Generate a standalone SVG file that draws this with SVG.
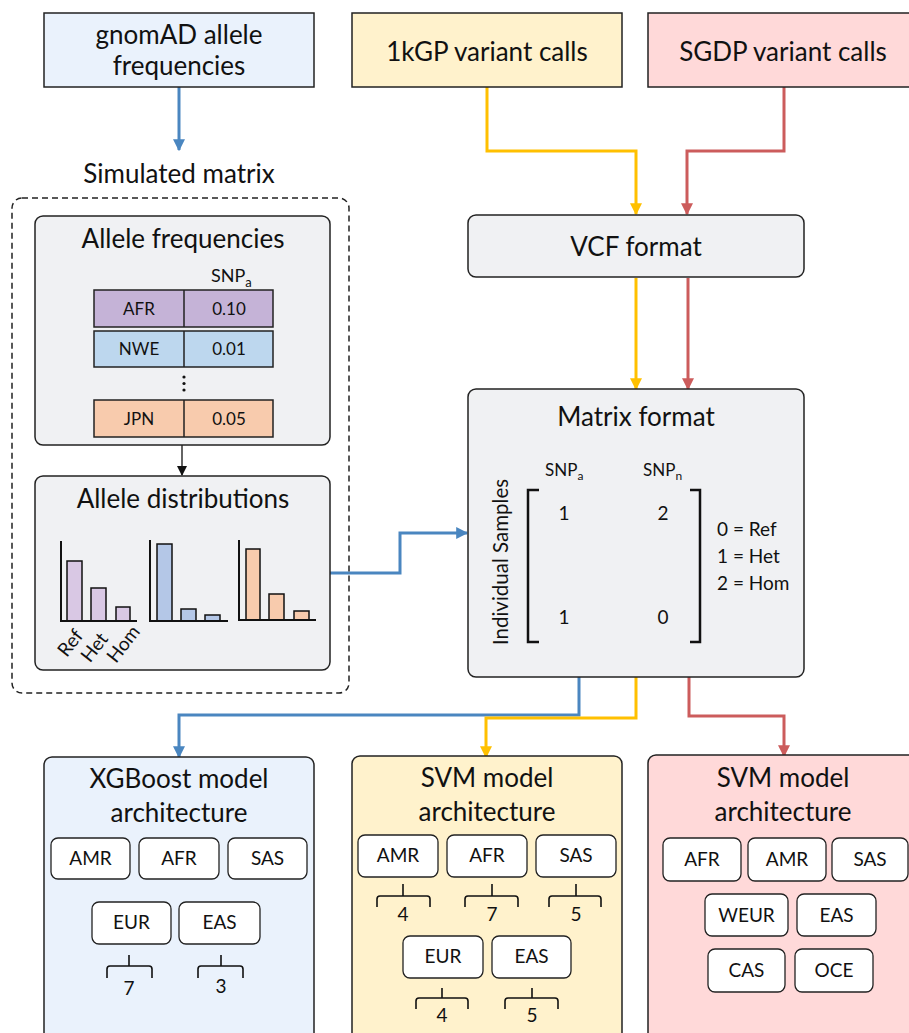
<svg xmlns="http://www.w3.org/2000/svg" width="909" height="1033" viewBox="0 0 909 1033">
<style>
text{font-family:Lato,"Open Sans","Noto Sans",sans-serif;fill:#111}
.t{font-size:26px;text-anchor:middle}
.m{font-size:19px;text-anchor:middle}
.s{font-size:17px;text-anchor:middle}
.box{stroke:#222;stroke-width:1.5}
.sub{fill:#fff;stroke:#222;stroke-width:1.3}
.br{fill:none;stroke:#111;stroke-width:1.6}
.ax{fill:none;stroke:#111;stroke-width:2}
.bar{stroke:#111;stroke-width:1.5}
.cb{fill:none;stroke:#4A86C0;stroke-width:3}
.cy{fill:none;stroke:#FFC000;stroke-width:3}
.cr{fill:none;stroke:#CC5C5C;stroke-width:3}
.ck{fill:none;stroke:#111;stroke-width:1.3}
</style>
<defs>
<marker id="ab" viewBox="0 0 10 10" refX="9" refY="5" markerWidth="4" markerHeight="4" orient="auto" markerUnits="strokeWidth"><path d="M0,0L10,5L0,10z" fill="#4A86C0"/></marker>
<marker id="ay" viewBox="0 0 10 10" refX="9" refY="5" markerWidth="4" markerHeight="4" orient="auto" markerUnits="strokeWidth"><path d="M0,0L10,5L0,10z" fill="#FFC000"/></marker>
<marker id="ar" viewBox="0 0 10 10" refX="9" refY="5" markerWidth="4" markerHeight="4" orient="auto" markerUnits="strokeWidth"><path d="M0,0L10,5L0,10z" fill="#CC5C5C"/></marker>
<marker id="ak" viewBox="0 0 10 10" refX="9" refY="5" markerWidth="8" markerHeight="8" orient="auto" markerUnits="strokeWidth"><path d="M0,0L10,5L0,10z" fill="#111"/></marker>
</defs>

<g id="connectors">
<path class="cb" d="M179,87V150" marker-end="url(#ab)"/>
<path class="cy" d="M487,87V151H636V214" marker-end="url(#ay)"/>
<path class="cr" d="M784,87V151H687V214" marker-end="url(#ar)"/>
<path class="cy" d="M636,278V389" marker-end="url(#ay)"/>
<path class="cr" d="M688,278V389" marker-end="url(#ar)"/>
<path class="ck" d="M182,445V475" marker-end="url(#ak)"/>
<path class="cb" d="M330,573H400V533H467" marker-end="url(#ab)"/>
<path class="cb" d="M579,677V715H179V757" marker-end="url(#ab)"/>
<path class="cy" d="M636,677V718H486V757" marker-end="url(#ay)"/>
<path class="cr" d="M689,677V716H784V756" marker-end="url(#ar)"/>
</g>

<g id="gnomad">
<rect class="box" x="44" y="13" width="270" height="74" fill="#EAF2FC"/>
<text class="t" x="179" y="44">gnomAD allele</text>
<text class="t" x="179" y="75">frequencies</text>
</g>
<g id="kgp">
<rect class="box" x="352" y="13" width="270" height="74" fill="#FFF2CC"/>
<text class="t" x="487" y="61">1kGP variant calls</text>
</g>
<g id="sgdp">
<rect class="box" x="648" y="13" width="270" height="74" fill="#FFD9D9"/>
<text class="t" x="783" y="61">SGDP variant calls</text>
</g>

<g id="simulated">
<text class="t" x="179" y="183">Simulated matrix</text>
<rect x="12" y="198" width="337" height="495" rx="10" fill="none" stroke="#222" stroke-width="1.5" stroke-dasharray="6,4"/>
</g>

<g id="allele-frequencies">
<rect class="box" x="35" y="216" width="295" height="229" rx="8" fill="#F0F1F3"/>
<text class="t" x="183" y="248">Allele frequencies</text>
<text x="211" y="282" font-size="18">SNP<tspan font-size="13" dy="5">a</tspan></text>
<rect class="box" x="94" y="290" width="179" height="37" fill="#C5B3D7"/>
<rect class="box" x="94" y="331" width="179" height="36" fill="#BDD7EE"/>
<rect class="box" x="94" y="400" width="179" height="37" fill="#F8CBAD"/>
<path d="M184,290V327M184,331V367M184,400V437" stroke="#222" stroke-width="1.5"/>
<circle cx="184" cy="377" r="1.6" fill="#111"/>
<circle cx="184" cy="383.5" r="1.6" fill="#111"/>
<circle cx="184" cy="390" r="1.6" fill="#111"/>
<text class="s" x="139" y="315">AFR</text>
<text class="s" x="229" y="315">0.10</text>
<text class="s" x="139" y="355">NWE</text>
<text class="s" x="229" y="355">0.01</text>
<text class="s" x="139" y="425">JPN</text>
<text class="s" x="229" y="425">0.05</text>
</g>

<g id="allele-distributions">
<rect class="box" x="35" y="476" width="295" height="194" rx="8" fill="#F0F1F3"/>
<text class="t" x="183" y="508">Allele distributions</text>
<rect class="bar" x="67" y="561" width="15" height="60" fill="#D9C8E4"/>
<rect class="bar" x="91" y="588" width="15" height="33" fill="#D9C8E4"/>
<rect class="bar" x="116" y="607" width="14" height="14" fill="#D9C8E4"/>
<path class="ax" d="M61,541V621H137"/>
<rect class="bar" x="157" y="544" width="15" height="77" fill="#B4C7E7"/>
<rect class="bar" x="181" y="609" width="15" height="12" fill="#B4C7E7"/>
<rect class="bar" x="205" y="615" width="15" height="6" fill="#B4C7E7"/>
<path class="ax" d="M150,540V621H228"/>
<rect class="bar" x="246" y="549" width="14" height="71" fill="#F8CBAD"/>
<rect class="bar" x="269" y="594" width="15" height="26" fill="#F8CBAD"/>
<rect class="bar" x="294" y="611" width="15" height="9" fill="#F8CBAD"/>
<path class="ax" d="M239,540V620H316"/>
<text font-size="19" text-anchor="end" transform="translate(84,636) rotate(-52)">Ref</text>
<text font-size="19" text-anchor="end" transform="translate(109,639) rotate(-52)">Het</text>
<text font-size="19" text-anchor="end" transform="translate(141,632) rotate(-52)">Hom</text>
</g>

<g id="vcf">
<rect class="box" x="468" y="215" width="336" height="62" rx="8" fill="#F0F1F3"/>
<text class="t" x="636" y="256">VCF format</text>
</g>

<g id="matrix">
<rect class="box" x="468" y="389" width="336" height="288" rx="8" fill="#F0F1F3"/>
<text class="t" x="636" y="426">Matrix format</text>
<text x="545" y="476" font-size="17">SNP<tspan font-size="12" dy="4">a</tspan></text>
<text x="643" y="476" font-size="17">SNP<tspan font-size="12" dy="4">n</tspan></text>
<text font-size="20.5" text-anchor="middle" transform="translate(508,562) rotate(-90)">Individual Samples</text>
<path d="M539,490H528V642H539M690,490H700V642H690" fill="none" stroke="#111" stroke-width="2.5"/>
<text class="m" x="564" y="520">1</text>
<text class="m" x="663" y="520">2</text>
<text class="m" x="564" y="624">1</text>
<text class="m" x="663" y="624">0</text>
<text x="717" y="536" font-size="19">0 = Ref</text>
<text x="717" y="563" font-size="19">1 = Het</text>
<text x="717" y="590" font-size="19">2 = Hom</text>
</g>

<g id="xgboost">
<rect class="box" x="44" y="757" width="270" height="290" rx="8" fill="#EAF2FC"/>
<text class="t" x="179" y="788">XGBoost model</text>
<text class="t" x="179" y="822">architecture</text>
<rect class="sub" x="51" y="838" width="79" height="41" rx="7"/>
<rect class="sub" x="139" y="838" width="80" height="41" rx="7"/>
<rect class="sub" x="228" y="838" width="79" height="41" rx="7"/>
<rect class="sub" x="92" y="902" width="79" height="42" rx="7"/>
<rect class="sub" x="179" y="902" width="81" height="42" rx="7"/>
<text class="m" x="90.5" y="865">AMR</text>
<text class="m" x="179" y="865">AFR</text>
<text class="m" x="267.5" y="865">SAS</text>
<text class="m" x="131.5" y="929">EUR</text>
<text class="m" x="219.5" y="929">EAS</text>
<path class="br" d="M107,978V969Q107,966 110,966H149Q152,966 152,969V978M129,966V955M198,978V969Q198,966 201,966H240Q243,966 243,969V978M221,966V955"/>
<text class="m" x="129" y="995">7</text>
<text class="m" x="221" y="993">3</text>
</g>

<g id="svm-1kgp">
<rect class="box" x="352" y="756" width="270" height="290" rx="8" fill="#FFF2CC"/>
<text class="t" x="487" y="787">SVM model</text>
<text class="t" x="487" y="821">architecture</text>
<rect class="sub" x="358" y="835" width="80" height="42" rx="7"/>
<rect class="sub" x="447" y="835" width="80" height="42" rx="7"/>
<rect class="sub" x="536" y="835" width="80" height="42" rx="7"/>
<rect class="sub" x="403" y="936" width="80" height="42" rx="7"/>
<rect class="sub" x="492" y="936" width="79" height="42" rx="7"/>
<text class="m" x="398" y="862">AMR</text>
<text class="m" x="487" y="862">AFR</text>
<text class="m" x="576" y="862">SAS</text>
<text class="m" x="443" y="963">EUR</text>
<text class="m" x="531.5" y="963">EAS</text>
<path class="br" d="M377,907V899Q377,896 380,896H427Q430,896 430,899V907M403,896V884M465,907V899Q465,896 468,896H515Q518,896 518,899V907M492,896V884M549,907V899Q549,896 552,896H598Q601,896 601,899V907M576,896V884"/>
<path class="br" d="M416,1009V1001Q416,998 419,998H465Q468,998 468,1001V1009M442,998V988M505,1009V1001Q505,998 508,998H555Q558,998 558,1001V1009M532,998V988"/>
<text class="m" x="403" y="921">4</text>
<text class="m" x="492" y="921">7</text>
<text class="m" x="576" y="921">5</text>
<text class="m" x="442" y="1022">4</text>
<text class="m" x="532" y="1022">5</text>
</g>

<g id="svm-sgdp">
<rect class="box" x="648" y="755" width="270" height="290" rx="8" fill="#FFD9D9"/>
<text class="t" x="783" y="787">SVM model</text>
<text class="t" x="783" y="821">architecture</text>
<rect class="sub" x="663" y="838" width="78" height="43" rx="7"/>
<rect class="sub" x="748" y="838" width="78" height="43" rx="7"/>
<rect class="sub" x="832" y="838" width="76" height="43" rx="7"/>
<rect class="sub" x="705" y="894" width="83" height="42" rx="7"/>
<rect class="sub" x="797" y="894" width="79" height="42" rx="7"/>
<rect class="sub" x="708" y="949" width="77" height="43" rx="7"/>
<rect class="sub" x="795" y="949" width="78" height="43" rx="7"/>
<text class="m" x="702" y="866">AFR</text>
<text class="m" x="787" y="866">AMR</text>
<text class="m" x="870" y="866">SAS</text>
<text class="m" x="746.5" y="922">WEUR</text>
<text class="m" x="836.5" y="922">EAS</text>
<text class="m" x="746.5" y="977">CAS</text>
<text class="m" x="834" y="977">OCE</text>
</g>
</svg>
